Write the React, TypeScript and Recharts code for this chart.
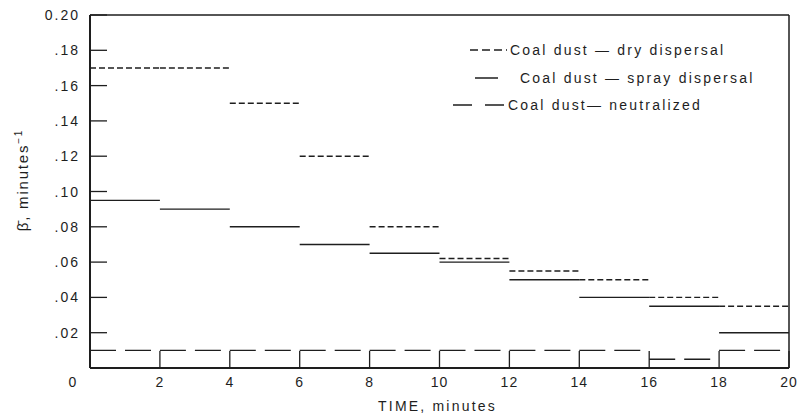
import React from 'react';
import { LineChart, Line, XAxis, YAxis, Legend } from 'recharts';

// interval start times (minutes), each interval is 2 minutes long
const intervalStarts = [0, 2, 4, 6, 8, 10, 12, 14, 16, 18];
const intervalLength = 2;

const dryDispersal = [0.17, 0.17, 0.15, 0.12, 0.08, 0.062, 0.055, 0.05, 0.04, 0.035];
const sprayDispersal = [0.095, 0.09, 0.08, 0.07, 0.065, 0.06, 0.05, 0.04, 0.035, 0.02];
const neutralized = [0.01, 0.01, 0.01, 0.01, 0.01, 0.01, 0.01, 0.01, 0.005, 0.01];

const xTicks = [0, 2, 4, 6, 8, 10, 12, 14, 16, 18, 20];
const yTicks = [0, 0.02, 0.04, 0.06, 0.08, 0.1, 0.12, 0.14, 0.16, 0.18, 0.2];

const INK = '#1e1e1e';
const FONT = '"Liberation Sans", Arial, sans-serif';

// turn per-interval values into horizontal segments separated by gaps
function toSegments(values: number[]) {
    const pts: { x: number; y: number | null }[] = [];
    values.forEach((v, i) => {
        const x0 = intervalStarts[i];
        pts.push({ x: x0, y: v });
        pts.push({ x: x0 + intervalLength, y: v });
        pts.push({ x: x0 + intervalLength, y: null });
    });
    return pts;
}

const series = [
    { key: 'dry', label: 'Coal dust \u2014 dry dispersal', values: dryDispersal, dash: '6 3' },
    { key: 'spray', label: 'Coal dust \u2014 spray dispersal', values: sprayDispersal, dash: undefined },
    { key: 'neutral', label: 'Coal dust\u2014 neutralized', values: neutralized, dash: '26 9' },
];

function formatY(v: number) {
    if (v === 0) return '';
    if (Math.abs(v - 0.2) < 1e-9) return '0.20';
    return '.' + String(Math.round(v * 100)).padStart(2, '0');
}

function XTick(props: any) {
    const { x, y, payload } = props;
    const shift = payload.value === 0 ? -17 : 0;
    return (
        <text
            x={x + shift}
            y={y}
            dy="0.71em"
            textAnchor="middle"
            fontSize={14}
            fontFamily={FONT}
            fill={INK}
            letterSpacing={1}
        >
            {payload.value}
        </text>
    );
}

function YTick(props: any) {
    const { x, y, payload } = props;
    return (
        <text
            x={x}
            y={y}
            dy="0.36em"
            textAnchor="end"
            fontSize={14}
            fontFamily={FONT}
            fill={INK}
            letterSpacing={2}
        >
            {formatY(payload.value)}
        </text>
    );
}

function LegendBox() {
    const rows = [
        { y: 14, x1: 30, x2: 67, tx: 70 },
        { y: 42, x1: 35, x2: 58, tx: 80 },
        { y: 69, x1: 13, x2: 67, tx: 68 },
    ];
    return (
        <svg width={330} height={85} style={{ display: 'block' }}>
            {series.map((s, i) => {
                const r = rows[i];
                return (
                    <g key={s.key}>
                        <line
                            x1={r.x1}
                            x2={r.x2}
                            y1={r.y}
                            y2={r.y}
                            stroke={INK}
                            strokeWidth={1.5}
                            strokeDasharray={i === 0 ? '8 4' : i === 2 ? '19 13' : undefined}
                        />
                        <text
                            x={r.tx}
                            y={r.y}
                            dy="0.36em"
                            fontSize={14}
                            fontFamily={FONT}
                            fill={INK}
                            letterSpacing={2.2}
                        >
                            {s.label}
                        </text>
                    </g>
                );
            })}
        </svg>
    );
}

function App() {
    return (
        <div style={{ position: 'absolute', left: 0, top: 0, background: '#fff' }}>
            <LineChart
                width={801}
                height={415}
                margin={{ top: 14, right: 11, bottom: 0, left: 0 }}
            >
                <XAxis
                    xAxisId="bottom"
                    type="number"
                    dataKey="x"
                    domain={[0, 20]}
                    ticks={xTicks}
                    height={47}
                    axisLine={{ stroke: INK, strokeWidth: 2 }}
                    tickLine={{ stroke: INK, strokeWidth: 1.3 }}
                    tickSize={-17}
                    tickMargin={26}
                    tick={<XTick />}
                    interval={0}
                    allowDataOverflow
                    label={{
                        value: 'TIME, minutes',
                        position: 'insideBottom',
                        offset: 4,
                        fontSize: 14,
                        fontFamily: FONT,
                        fill: INK,
                        letterSpacing: 2.2,
                        dx: -2,
                    }}
                />
                <XAxis
                    xAxisId="top"
                    orientation="top"
                    type="number"
                    dataKey="x"
                    domain={[0, 20]}
                    ticks={xTicks}
                    height={1}
                    axisLine={{ stroke: INK, strokeWidth: 1.5 }}
                    tickLine={{ stroke: INK, strokeWidth: 1.3 }}
                    tickSize={-18}
                    tick={false}
                    interval={0}
                />
                <YAxis
                    yAxisId="left"
                    type="number"
                    domain={[0, 0.2]}
                    ticks={yTicks}
                    width={90}
                    axisLine={{ stroke: INK, strokeWidth: 2 }}
                    tickLine={{ stroke: INK, strokeWidth: 1.3 }}
                    tickSize={-17}
                    tickMargin={27}
                    tick={<YTick />}
                    interval={0}
                    allowDataOverflow
                />
                <YAxis
                    yAxisId="right"
                    orientation="right"
                    type="number"
                    domain={[0, 0.2]}
                    ticks={yTicks}
                    width={1}
                    axisLine={{ stroke: INK, strokeWidth: 1.5 }}
                    tickLine={{ stroke: INK, strokeWidth: 1.3 }}
                    tickSize={-17}
                    tick={false}
                    interval={0}
                />
                <Legend
                    layout="vertical"
                    align="center"
                    verticalAlign="middle"
                    content={<LegendBox />}
                    wrapperStyle={{ left: 440, top: 36, width: 330, height: 85 }}
                />
                {series.map((s) => (
                    <Line
                        key={s.key}
                        xAxisId="bottom"
                        yAxisId="left"
                        data={toSegments(s.values)}
                        dataKey="y"
                        name={s.label}
                        type="linear"
                        stroke={INK}
                        strokeWidth={1.4}
                        strokeDasharray={s.dash}
                        dot={false}
                        activeDot={false}
                        connectNulls={false}
                        isAnimationActive={false}
                    />
                ))}
                <text
                    transform="translate(28, 180) rotate(-90)"
                    textAnchor="middle"
                    fontSize={15}
                    fontFamily={FONT}
                    fill={INK}
                    letterSpacing={1.8}
                >
                    {'\u03B2\u0304, minutes'}
                    <tspan fontSize={10} dy={-6}>
                        {'\u22121'}
                    </tspan>
                </text>
            </LineChart>
        </div>
    );
}

export default App;
